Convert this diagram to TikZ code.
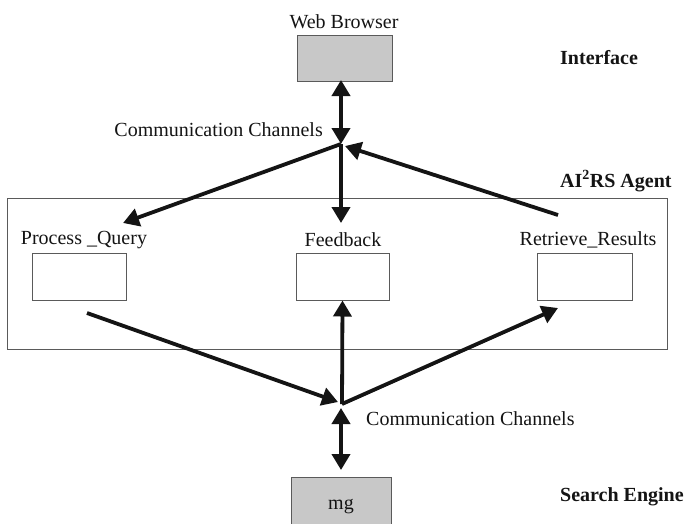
\documentclass[tikz,border=0pt]{standalone}
\usepackage{fontspec}
\setmainfont{Liberation Serif}
\usetikzlibrary{arrows.meta}
\definecolor{boxgray}{RGB}{200,200,200}
\definecolor{edgegray}{RGB}{90,90,90}
\definecolor{ink}{RGB}{20,20,20}
\begin{document}
\begin{tikzpicture}[x=1pt,y=-1pt,
  every node/.style={font=\fontsize{20}{24}\selectfont, text=ink},
  graybox/.style={draw=edgegray, line width=1pt, fill=boxgray, inner sep=0pt},
  whitebox/.style={draw=edgegray, line width=1pt, fill=white, inner sep=0pt, minimum width=94pt, minimum height=47pt},
  label/.style={font=\fontsize{20}{24}\selectfont, inner sep=0pt},
  tag/.style={font=\fontsize{20}{24}\selectfont\bfseries, inner sep=0pt, anchor=west},
  flow/.style={draw=ink, line width=3.8pt, -{Triangle[length=16pt,width=18pt]}},
  bothflow/.style={draw=ink, line width=3.8pt, {Triangle[length=16pt,width=18pt]}-{Triangle[length=16pt,width=18pt]}}
]
\useasboundingbox (0,0) rectangle (684,523);
\fill[white] (0,0) rectangle (684,523);

% agent frame
\node[draw=edgegray, line width=1pt, minimum width=660pt, minimum height=151pt, inner sep=0pt] (agent) at (337,273.5) {};

% top
\node[label] (wbtext) at (344,22) {Web Browser};
\node[graybox, minimum width=95pt, minimum height=46pt] (browser) at (344.5,58) {};
\node[tag] (interface) at (560,58) {Interface};
\node[label, anchor=east] (cc1) at (323,130) {Communication Channels};
\node[tag] (agenttag) at (560,181) {AI\textsuperscript{2}RS Agent};

% inner boxes
\node[label] (pqtext) at (84,240) {Process \_Query};
\node[label] (fbtext) at (343,240) {Feedback};
\node[label] (rrtext) at (588,240) {Retrieve\_Results};
\node[whitebox] (pq) at (79,276.5) {};
\node[whitebox, minimum width=93pt] (fb) at (342.5,276.5) {};
\node[whitebox, minimum width=95pt] (rr) at (584.5,276.5) {};

% bottom
\node[label, anchor=west] (cc2) at (366,419) {Communication Channels};
\node[graybox, minimum width=100pt, minimum height=56pt] (mg) at (341,505) {};
\node[label, anchor=base] (mgtext) at (341,509) {mg};
\node[tag] (se) at (560,497) {Search Engine};

% coordinates
\coordinate (hubT) at (341,144);
\coordinate (hubB) at (342,404);
\coordinate (browserS) at (341,80);
\coordinate (pqIn) at (123,223);
\coordinate (fbIn) at (341,223);
\coordinate (rrOut) at (558,215);
\coordinate (rrTip) at (345,146);
\coordinate (pqOut) at (87,313);
\coordinate (pqTip) at (338,402);
\coordinate (rrIn) at (558,308);
\coordinate (cc2top) at (341,408);
\coordinate (mgN) at (341,470);

% connectors
\draw[bothflow] (browserS) -- (hubT);
\draw[flow] (hubT) -- (pqIn);
\draw[flow] (hubT) -- (fbIn);
\draw[flow] (rrOut) -- (rrTip);
\draw[flow] (pqOut) -- (pqTip);
\draw[flow] (hubB) -- (fb.south);
\draw[flow] (hubB) -- (rrIn);
\draw[bothflow] (cc2top) -- (mgN);
\end{tikzpicture}
\end{document}
